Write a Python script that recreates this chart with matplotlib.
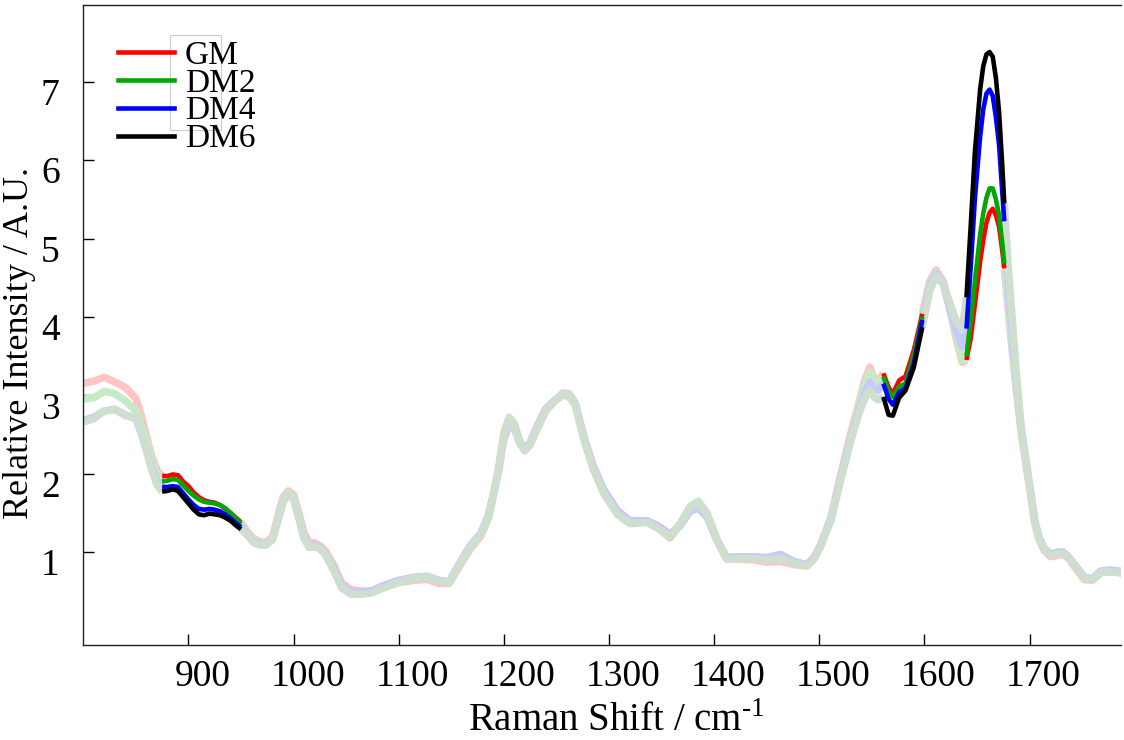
"""
Raman spectra of GM and DM2/DM4/DM6 with the band regions highlighted
"""

import numpy as np
import matplotlib
matplotlib.use('Agg')
import matplotlib.pyplot as plt
import matplotlib.transforms as mtransforms
from matplotlib.lines import Line2D
from matplotlib.patches import Rectangle

plt.rcParams['font.family'] = ['Liberation Serif', 'DejaVu Serif']
plt.rcParams['mathtext.fontset'] = 'custom'
plt.rcParams['mathtext.rm'] = 'Liberation Serif'

# Raman shift / cm-1
shift = [800, 810, 820, 830, 840, 850, 855, 860, 865, 870,
         875, 880, 885, 890, 895, 900, 905, 910, 915, 920,
         925, 930, 935, 940, 945, 950, 955, 962, 968, 974,
         980, 985, 990, 995, 1000, 1005, 1010, 1015, 1020, 1025,
         1030, 1038, 1046, 1055, 1065, 1075, 1085, 1100, 1115, 1127,
         1138, 1148, 1158, 1168, 1178, 1185, 1190, 1195, 1200, 1205,
         1210, 1215, 1220, 1225, 1232, 1240, 1248, 1256, 1262, 1268,
         1276, 1285, 1295, 1308, 1320, 1336, 1346, 1358, 1368, 1377,
         1385, 1393, 1403, 1412, 1422, 1438, 1450, 1463, 1476, 1488,
         1495, 1501, 1511, 1520, 1530, 1538, 1543, 1548, 1552, 1556,
         1561, 1566, 1570, 1576, 1582, 1590, 1598, 1605, 1611, 1618,
         1625, 1631, 1636, 1640, 1644, 1648, 1653, 1656, 1659, 1662,
         1665, 1668, 1671, 1674, 1676,
         1680, 1684, 1688, 1692, 1696, 1701, 1705, 1709,
         1714, 1720, 1727, 1732, 1737, 1744, 1752, 1760, 1768, 1777,
         1790]

gm = [3.15, 3.18, 3.23, 3.17, 3.10, 2.96, 2.75, 2.48, 2.22, 2.05,
      1.97, 1.97, 1.99, 1.98, 1.90, 1.84, 1.76, 1.70, 1.66, 1.64,
      1.63, 1.60, 1.55, 1.50, 1.44, 1.38, 1.28, 1.17, 1.13, 1.12,
      1.20, 1.45, 1.70, 1.78, 1.73, 1.50, 1.24, 1.12, 1.12, 1.08,
      1.02, 0.84, 0.60, 0.52, 0.50, 0.50, 0.55, 0.61, 0.64, 0.65,
      0.60, 0.60, 0.82, 1.04, 1.20, 1.42, 1.72, 2.06, 2.52, 2.72,
      2.64, 2.42, 2.31, 2.37, 2.58, 2.80, 2.92, 3.03, 3.02, 2.90,
      2.48, 2.08, 1.76, 1.49, 1.37, 1.38, 1.31, 1.18, 1.35, 1.56,
      1.63, 1.50, 1.15, 0.91, 0.91, 0.90, 0.87, 0.88, 0.84, 0.82,
      0.92, 1.08, 1.44, 1.96, 2.52, 2.92, 3.18, 3.36, 3.22, 3.18,
      3.28, 3.10, 3.02, 3.19, 3.24, 3.58, 4.04, 4.45, 4.60, 4.45,
      4.05, 3.68, 3.42, 3.45, 3.72, 4.15, 4.70, 4.98, 5.20, 5.33,
      5.38, 5.30, 5.15, 4.85, 4.62,
      4.05, 3.50, 3.00, 2.55, 2.18, 1.74, 1.37, 1.16,
      1.02, 0.94, 0.96, 0.97, 0.92, 0.79, 0.65, 0.64, 0.74, 0.75,
      0.73]

dm2 = [2.95, 2.97, 3.05, 3.02, 2.93, 2.80, 2.62, 2.40, 2.17, 2.00,
       1.90, 1.91, 1.93, 1.92, 1.85, 1.78, 1.72, 1.67, 1.64, 1.63,
       1.62, 1.60, 1.56, 1.50, 1.43, 1.36, 1.26, 1.15, 1.11, 1.10,
       1.18, 1.42, 1.66, 1.75, 1.70, 1.45, 1.18, 1.06, 1.07, 1.05,
       0.98, 0.78, 0.55, 0.47, 0.47, 0.49, 0.54, 0.61, 0.66, 0.68,
       0.63, 0.61, 0.84, 1.06, 1.22, 1.43, 1.72, 2.05, 2.50, 2.70,
       2.62, 2.40, 2.30, 2.38, 2.60, 2.82, 2.93, 3.02, 3.00, 2.88,
       2.45, 2.07, 1.76, 1.49, 1.37, 1.39, 1.32, 1.20, 1.37, 1.58,
       1.65, 1.50, 1.15, 0.92, 0.93, 0.92, 0.90, 0.92, 0.86, 0.83,
       0.92, 1.07, 1.41, 1.92, 2.47, 2.88, 3.12, 3.30, 3.20, 3.12,
       3.24, 3.05, 2.98, 3.11, 3.15, 3.51, 4.00, 4.40, 4.57, 4.42,
       4.05, 3.70, 3.44, 3.50, 3.96, 4.45, 5.05, 5.32, 5.52, 5.64,
       5.64, 5.50, 5.30, 4.95, 4.68,
       4.15, 3.55, 3.05, 2.55, 2.20, 1.75, 1.38, 1.18,
       1.04, 0.96, 0.98, 0.98, 0.93, 0.81, 0.67, 0.65, 0.74, 0.75,
       0.73]

dm4 = [2.68, 2.72, 2.80, 2.82, 2.75, 2.70, 2.52, 2.30, 2.08, 1.90,
       1.83, 1.83, 1.84, 1.83, 1.75, 1.67, 1.60, 1.55, 1.54, 1.55,
       1.54, 1.52, 1.48, 1.43, 1.37, 1.32, 1.24, 1.13, 1.10, 1.10,
       1.17, 1.40, 1.64, 1.73, 1.68, 1.44, 1.18, 1.08, 1.09, 1.06,
       0.99, 0.80, 0.57, 0.49, 0.49, 0.51, 0.57, 0.64, 0.68, 0.69,
       0.64, 0.62, 0.86, 1.08, 1.24, 1.46, 1.74, 2.04, 2.44, 2.62,
       2.58, 2.40, 2.31, 2.40, 2.62, 2.83, 2.93, 3.00, 2.99, 2.88,
       2.47, 2.10, 1.80, 1.53, 1.40, 1.40, 1.34, 1.23, 1.34, 1.52,
       1.56, 1.45, 1.14, 0.93, 0.94, 0.94, 0.93, 0.97, 0.88, 0.84,
       0.93, 1.08, 1.42, 1.93, 2.45, 2.82, 3.02, 3.17, 3.08, 3.06,
       3.15, 2.95, 2.88, 3.04, 3.09, 3.41, 3.96, 4.38, 4.55, 4.42,
       4.08, 3.79, 3.62, 3.85, 4.62, 5.50, 6.30, 6.65, 6.85, 6.90,
       6.82, 6.55, 6.20, 5.60, 5.22,
       4.35, 3.70, 3.10, 2.58, 2.22, 1.77, 1.40, 1.19,
       1.05, 0.97, 1.00, 1.00, 0.94, 0.82, 0.68, 0.66, 0.76, 0.77,
       0.75]

dm6 = [2.66, 2.70, 2.80, 2.82, 2.74, 2.72, 2.55, 2.30, 2.05, 1.86,
       1.77, 1.78, 1.80, 1.78, 1.70, 1.62, 1.54, 1.48, 1.47, 1.49,
       1.48, 1.47, 1.44, 1.40, 1.34, 1.29, 1.23, 1.12, 1.09, 1.09,
       1.16, 1.40, 1.64, 1.74, 1.69, 1.44, 1.17, 1.06, 1.07, 1.04,
       0.97, 0.77, 0.54, 0.46, 0.46, 0.48, 0.54, 0.62, 0.67, 0.69,
       0.64, 0.61, 0.84, 1.06, 1.22, 1.43, 1.72, 2.05, 2.48, 2.68,
       2.60, 2.39, 2.29, 2.37, 2.59, 2.81, 2.92, 3.01, 2.99, 2.87,
       2.44, 2.06, 1.75, 1.48, 1.36, 1.38, 1.31, 1.19, 1.36, 1.57,
       1.63, 1.49, 1.14, 0.91, 0.92, 0.92, 0.90, 0.92, 0.86, 0.82,
       0.91, 1.06, 1.40, 1.90, 2.42, 2.78, 2.95, 3.07, 2.98, 2.94,
       2.98, 2.75, 2.74, 2.97, 3.06, 3.36, 3.87, 4.33, 4.52, 4.42,
       4.15, 3.92, 3.85, 4.25, 5.15, 6.10, 6.90, 7.20, 7.35, 7.38,
       7.32, 7.05, 6.62, 5.95, 5.45,
       4.60, 3.90, 3.20, 2.60, 2.22, 1.76, 1.39, 1.18,
       1.04, 0.96, 0.98, 0.98, 0.93, 0.81, 0.67, 0.65, 0.74, 0.75,
       0.73]

labels = ['GM', 'DM2', 'DM4', 'DM6']
solid_colors = ['#ff0000', '#00a800', '#0000ff', '#000000']
pale_colors = ['#ffc4c4', '#c6eac6', '#c8c8ff', '#cfdfcf']

# shift ranges drawn at full colour
bands = [(875, 950), (1561, 1598), (1640, 1676)]

x = np.array(shift, dtype=float)
series = [np.array(s, dtype=float) for s in (gm, dm2, dm4, dm6)]
assert all(s.size == x.size for s in series)

inside = np.zeros(x.size, dtype=bool)   # strictly inside a band
for lo, hi in bands:
    inside |= (x > lo) & (x < hi)

fig = plt.figure(figsize=(11.24, 7.40), dpi=100)
ax = fig.add_axes([83.3 / 1124, 1 - 644.5 / 740, (1121 - 83.3) / 1124, (644.5 - 5) / 740])

# faded full spectra, gaps where the band lines go
for y, c in zip(series, pale_colors):
    ax.plot(x, np.where(inside, np.nan, y), color=c, lw=5.4,
            solid_capstyle='butt', zorder=2)

# band regions
for y, c in zip(series, solid_colors):
    for lo, hi in bands:
        m = (x >= lo) & (x <= hi)
        ax.plot(x[m], y[m], color=c, lw=3.3, solid_capstyle='butt', zorder=3)

ax.set_xlim(800, 1787)
ax.set_ylim(-0.18, 7.98)
ax.set_xticks(range(900, 1701, 100))
ax.set_yticks(range(1, 8))
ax.tick_params(direction='in', length=8, width=1.0, labelsize=27,
               top=False, right=False)
ax.tick_params(axis='x', pad=11)
ax.tick_params(axis='y', pad=17)
ax.spines['right'].set_visible(False)
for sp in ('left', 'bottom', 'top'):
    ax.spines[sp].set_linewidth(1.0)
    ax.spines[sp].set_color('#222222')

# tick labels sit a little right / below their ticks
dx = mtransforms.ScaledTranslation(14 / 100, 0, fig.dpi_scale_trans)
dy = mtransforms.ScaledTranslation(0, -10 / 100, fig.dpi_scale_trans)
for lab in ax.get_xticklabels():
    lab.set_transform(lab.get_transform() + dx)
for lab in ax.get_yticklabels():
    lab.set_transform(lab.get_transform() + dy)

ax.set_xlabel(r'Raman Shift / cm$^{\text{-1}}$', fontsize=28, labelpad=6)
ax.xaxis.label.set_transform(ax.xaxis.label.get_transform() + dx)
ax.set_ylabel('Relative Intensity / A.U.', fontsize=26)
ax.yaxis.set_label_coords(-0.046, 0.472)

handles = [Line2D([], [], color=c, lw=3.3) for c in solid_colors]
leg = ax.legend(handles, labels, loc='upper left', bbox_to_anchor=(0.0334, 0.945),
                frameon=False, fontsize=24, handlelength=1.68, handletextpad=0.33,
                labelspacing=-0.08, borderpad=0.0, borderaxespad=0.0)

# stray legend box outline
ax.add_patch(Rectangle((0.084, 0.805), 0.049, 0.148, transform=ax.transAxes,
                       fill=False, ec='#cccccc', lw=0.8, zorder=1))

fig.savefig('out.png', dpi=100)
